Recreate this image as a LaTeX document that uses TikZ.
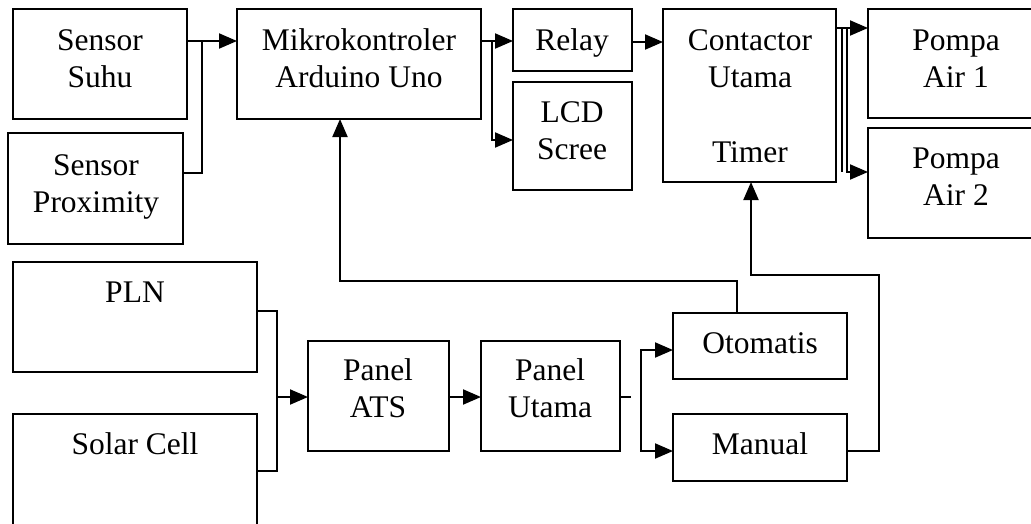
\documentclass[tikz,border=0pt]{standalone}
\usepackage{fontspec}
\setmainfont{Liberation Serif}
\usetikzlibrary{arrows.meta}
\newcommand\mybox[5]{\node[box, minimum width={(#4)-(#2)}, minimum height={(#5)-(#3)}] (#1) at ({((#2)+(#4))/2},{((#3)+(#5))/2}) {};}
\newcommand\mytxt[4]{\node[txt] (#1) at (#2,#3) {\begin{tabular}[t]{@{}c@{}}#4\end{tabular}};}
\begin{document}
\begin{tikzpicture}[x=1pt,y=-1pt,
  box/.style={draw, line width=2pt, inner sep=0pt, outer sep=0pt},
  txt/.style={anchor=base, inner sep=0pt, font=\fontsize{31.5}{37.5}\selectfont},
  conn/.style={line width=2pt},
  arr/.style={conn, -{Triangle[length=18pt,width=15pt]}}]
\useasboundingbox (0,0) rectangle (1031,523);
% boxes
\mybox{sSuhu}{13}{9}{187}{119}
\mybox{sProx}{8}{133}{183}{244}
\mybox{mcu}{237}{9}{481}{119}
\mybox{relay}{513}{9}{632}{71}
\mybox{lcd}{513}{82}{632}{190}
\mybox{cont}{663}{9}{836}{182}
\mybox{pA}{868}{9}{1045}{118}
\mybox{pB}{868}{128}{1045}{238}
\mybox{pln}{13}{262}{257}{372}
\mybox{solar}{13}{414}{257}{545}
\mybox{ats}{308}{341}{449}{451}
\mybox{utama}{481}{341}{620}{451}
\mybox{oto}{673}{313}{847}{379}
\mybox{man}{673}{414}{847}{481}
% texts
\mytxt{sSuhu-t}{100}{50}{Sensor\\Suhu}
\mytxt{sProx-t}{96}{175}{Sensor\\Proximity}
\mytxt{mcu-t}{359}{50}{Mikrokontroler\\Arduino Uno}
\mytxt{relay-t}{572}{50}{Relay}
\mytxt{lcd-t}{572}{122}{LCD\\Scree}
\mytxt{cont-t}{750}{50}{Contactor\\Utama\\\\Timer}
\mytxt{pA-t}{956}{50}{Pompa\\Air 1}
\mytxt{pB-t}{956}{168}{Pompa\\Air 2}
\mytxt{pln-t}{135}{302}{PLN}
\mytxt{solar-t}{135}{454}{Solar Cell}
\mytxt{ats-t}{378}{380}{Panel\\ATS}
\mytxt{utama-t}{550}{380}{Panel\\Utama}
\mytxt{oto-t}{760}{353}{Otomatis}
\mytxt{man-t}{760}{454}{Manual}
% junction coordinates
\coordinate (j1) at (202,41);
\coordinate (j2) at (202,173);
\coordinate (j3) at (492,41);
\coordinate (j4) at (492,140);
\coordinate (j5) at (640,42);
\coordinate (j6) at (847,28);
\coordinate (j7) at (847,172);
\coordinate (j8) at (842,28);
\coordinate (j9) at (842,172);
\coordinate (j10) at (277,311);
\coordinate (j11) at (277,471);
\coordinate (j12) at (277,397);
\coordinate (j13) at (631,397);
\coordinate (j14) at (641,350);
\coordinate (j15) at (641,451);
\coordinate (j16) at (737,281);
\coordinate (j17) at (340,281);
\coordinate (j18) at (879,451);
\coordinate (j19) at (879,275);
\coordinate (j20) at (751,275);
% connectors
\draw[arr] (sSuhu.east |- j1) -- (mcu.west |- j1);
\draw[conn] (sProx.east |- j2) -- (j2) -- (j1);
\draw[arr] (mcu.east |- j3) -- (relay.west |- j3);
\draw[arr] (j3) -- (j4) -- (lcd.west |- j4);
\draw[arr] (relay.east |- j5) -- (cont.west |- j5);
\draw[arr] (cont.east |- j6) -- (pA.west |- j6);
\draw[conn] (j8) -- (j9);
\draw[arr] (j6) -- (j7) -- (pB.west |- j7);
\draw[conn] (pln.east |- j10) -- (j10) -- (j11) -- (solar.east |- j11);
\draw[arr] (j12) -- (ats.west |- j12);
\draw[arr] (ats.east |- j12) -- (utama.west |- j12);
\draw[conn] (utama.east |- j13) -- (j13);
\draw[arr] (j15) -- (j14) -- (oto.west |- j14);
\draw[arr] (j14) -- (j15) -- (man.west |- j15);
\draw[arr] (oto.north -| j16) -- (j16) -- (j17) -- (mcu.south -| j17);
\draw[arr] (man.east |- j18) -- (j18) -- (j19) -- (j20) -- (cont.south -| j20);
\end{tikzpicture}
\end{document}
